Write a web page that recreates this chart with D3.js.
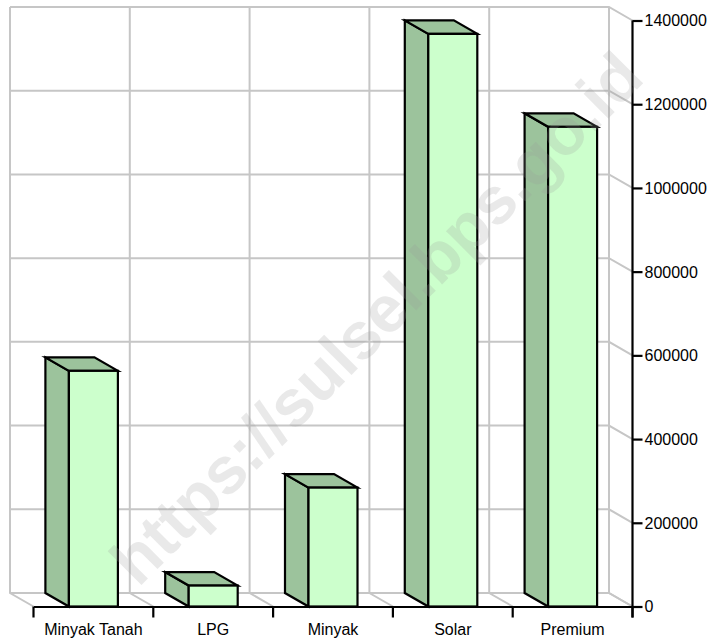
<!DOCTYPE html>
<html><head><meta charset="utf-8">
<script src="https://cdn.jsdelivr.net/npm/d3@7/dist/d3.min.js"></script>
<style>html,body{margin:0;padding:0;background:#fff;}svg{display:block;}</style>
</head><body>
<svg id="c" width="711" height="640"></svg>
<script>
const categories = ["Minyak Tanah", "LPG", "Minyak", "Solar", "Premium"];
const values = [563000, 50000, 284000, 1368000, 1146000];
const yTicks = [0, 200000, 400000, 600000, 800000, 1000000, 1200000, 1400000];
const watermark = "https://sulsel.bps.go.id";

const svg = d3.select("#c");
const font = "'Liberation Sans', Arial, sans-serif";
const dx = 23.5, dy = 13.5;           // depth offset (back -> front)
const x = d3.scaleBand().domain(categories).range([33.5, 632.5]).paddingInner(0).paddingOuter(0);
const y = d3.scaleLinear().domain([0, 1400000]).range([606.5, 20.5]);
const grid = "#c6c6c6";

// back wall grid
const g = svg.append("g").attr("fill", "none").attr("stroke", grid).attr("stroke-width", 2);
const backL = x.range()[0] - dx, backR = x.range()[1] - dx;
yTicks.forEach(t => {
  const yb = y(t) - dy;
  g.append("path").attr("d", `M${backL},${yb}H${backR}L${backR + dx},${yb + dy}`);
});
const bounds = categories.map(c => x(c)).concat([x.range()[1]]);
bounds.forEach(b => {
  const xb = b - dx;
  g.append("path").attr("d", `M${xb},${y(1400000) - dy}V${y(0) - dy}L${xb + dx},${y(0)}`);
});

// bars
const bw = 49;
const bars = svg.append("g").attr("stroke", "#000").attr("stroke-width", 2.2).attr("stroke-linejoin", "miter");
categories.forEach((c, i) => {
  const cx = x(c) + x.bandwidth() / 2;
  const fl = cx - bw / 2, fr = cx + bw / 2;
  const yt = y(values[i]), yb = y(0);
  bars.append("path").attr("fill", "#9cc39c")
    .attr("d", `M${fl},${yb}V${yt}L${fl - dx},${yt - dy}V${yb - dy}Z`);
  bars.append("path").attr("fill", "#9cc39c")
    .attr("d", `M${fl},${yt}H${fr}L${fr - dx},${yt - dy}H${fl - dx}Z`);
  bars.append("rect").attr("fill", "#ccffcc")
    .attr("x", fl).attr("y", yt).attr("width", bw).attr("height", yb - yt);
});

// right axis
const ya = svg.append("g").attr("transform", `translate(${x.range()[1]},0)`)
  .call(d3.axisRight(y).tickValues(yTicks).tickFormat(d3.format("d")).tickSize(10).tickPadding(2));
ya.select(".domain").attr("stroke", "#000").attr("stroke-width", 2.2).attr("d", `M0,${y(1400000)}V${y(0) + 11}`);
ya.selectAll(".tick line").attr("stroke", "#000").attr("stroke-width", 2.2);
ya.selectAll(".tick text").attr("font-family", font).attr("font-size", 16).attr("fill", "#000").attr("dy", "0.34em");

// bottom axis
const xa = svg.append("g").attr("transform", `translate(0,${y(0)})`)
  .call(d3.axisBottom(x).tickSize(0).tickPadding(17));
xa.select(".domain").attr("stroke", "#000").attr("stroke-width", 2.2);
xa.selectAll(".tick text").attr("font-family", font).attr("font-size", 16).attr("fill", "#000");
bounds.forEach(b => {
  xa.append("line").attr("x1", b).attr("x2", b).attr("y1", 0).attr("y2", 11)
    .attr("stroke", "#000").attr("stroke-width", 2.2);
});

// watermark
svg.append("text").text(watermark)
  .attr("transform", "translate(376,318) rotate(-45)")
  .attr("text-anchor", "middle").attr("dominant-baseline", "central")
  .attr("font-family", font).attr("font-weight", "bold").attr("font-size", 66)
  .attr("fill", "#999").attr("fill-opacity", 0.22);
</script>
</body></html>
